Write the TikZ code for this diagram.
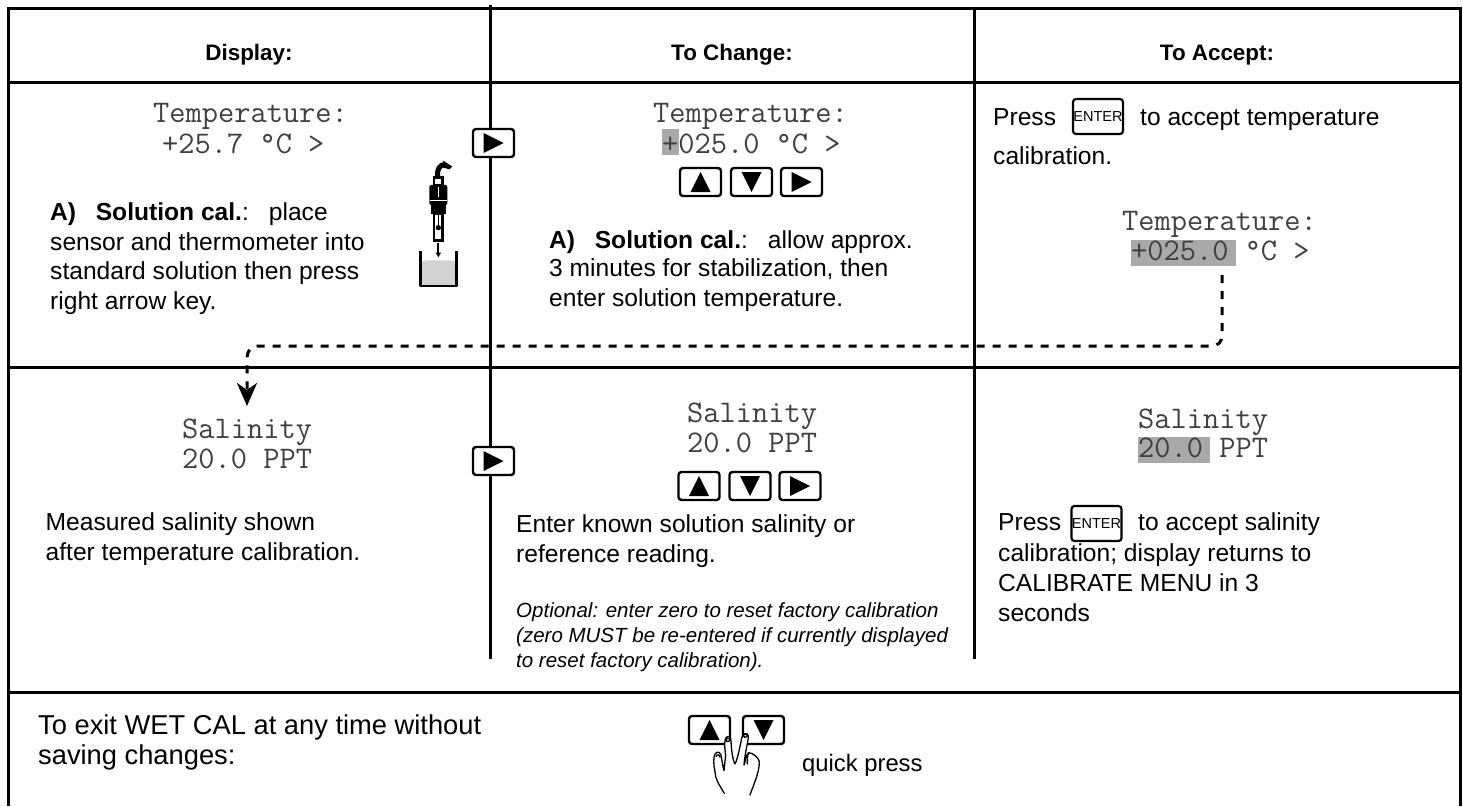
\documentclass[tikz,border=0pt]{standalone}
\usepackage{fontspec}
\setmainfont{Liberation Sans}
\setmonofont{Latin Modern Mono}
\usetikzlibrary{arrows.meta}
\definecolor{hl}{HTML}{A9A9A9}
\definecolor{monoc}{HTML}{404040}
\definecolor{liq}{HTML}{D2D2D2}
\tikzset{
  rule/.style={line width=3pt,black},
  body/.style={anchor=base west,inner sep=0pt,font=\fontsize{24.6}{24.6}\selectfont},
  small/.style={anchor=base west,inner sep=0pt,font=\fontsize{20.5}{20.5}\selectfont\itshape},
  head/.style={anchor=base,inner sep=0pt,font=\fontsize{22.4}{22.4}\selectfont\bfseries},
  big/.style={anchor=base west,inner sep=0pt,font=\fontsize{27.3}{27.3}\selectfont},
  mono/.style={anchor=base west,inner sep=0pt,text=monoc,font=\fontsize{31.5}{31.5}\ttfamily},
  keybox/.style={draw,fill=white,line width=2.4pt,rounded corners=3pt,minimum width=41pt,minimum height=28pt,inner sep=0pt},
  enterkey/.style={draw,fill=white,line width=2.2pt,rounded corners=3pt,minimum width=50pt,minimum height=35pt,inner sep=0pt,font=\fontsize{14.5}{14.5}\selectfont},
  flow/.style={line width=3pt,dash pattern=on 8pt off 8pt},
  hand/.style={line width=1.3pt,line cap=round,line join=round}
}
\newcommand{\trU}{(-10,10)--(0,-10)--(10,10)--cycle}
\newcommand{\trD}{(-10,-10)--(0,10)--(10,-10)--cycle}
\newcommand{\trR}{(-10,-10)--(10,0)--(-10,10)--cycle}
\newcommand{\keybtn}[4]{\node[keybox] (#1) at (#2,#3) {};\fill[shift={(#1.center)}] #4;}
\begin{document}
\begin{tikzpicture}[x=1pt,y=-1pt]
\useasboundingbox (0,0) rectangle (1463,806);
% highlights
\fill[hl] (662,129) rectangle (679,155);
\fill[hl] (1131,240) rectangle (1236,266);
\fill[hl] (1138,437) rectangle (1210,463);
% rules
\draw[rule] (8,806) -- (8,8) -- (1460,8) -- (1460,806);
\draw[rule] (8,82) -- (1460,82);
\draw[rule] (8,367) -- (1460,367);
\draw[rule] (8,692) -- (1460,692);
\draw[rule] (490,5) -- (490,659);
\draw[rule] (974,8) -- (974,659);
% headers
\node[head] (h1) at (249,60) {Display:};
\node[head] (h2) at (732,60) {To Change:};
\node[head] (h3) at (1217,60) {To Accept:};
% column 1 row 1
\node[mono] (t1a) at (153,122) {Temperature:};
\node[mono] (t1b) at (162,153) {+25.7 °C >};
\node[body] (b1a) at (50,220) {\textbf{A)\hspace{0.8em}Solution cal.}:\hspace{20pt}place};
\node[body] (b1b) at (50,250) {sensor and thermometer into};
\node[body] (b1c) at (50,279) {standard solution then press};
\node[body] (b1d) at (50,309) {right arrow key.};
% probe
\begin{scope}[shift={(400,80)},x=0.3333pt,y=-0.3333pt]
  \fill[liq] (65,545) -- (80,541) -- (150,541) -- (167,545) -- (167,615) -- (65,615) -- cycle;
  \draw[line width=2.6pt,line join=round] (62,512) -- (62,618) -- (170,618) -- (170,512);
  \draw[line width=1.8pt,-{Latex[length=5pt,width=6pt]}] (115,490) -- (115,533);
  \draw[line width=2.4pt,fill=white] (102,400) rectangle (128,482);
  \fill (115,443) circle (8);
  \draw[line width=1pt] (115,400) -- (115,435);
  \fill[rounded corners=2pt] (88,315) rectangle (142,375);
  \fill (92,375) rectangle (138,403);
  \draw[line width=2.4pt,fill=white] (102,292) rectangle (127,316);
  \draw[white,line width=0.7pt] (115,322) -- (115,350) (90,362) -- (140,362);
  \draw[line width=5pt] (113,292) .. controls (110,265) and (120,255) .. (135,253);
  \fill (130,242) -- (157,260) -- (148,268) -- (128,262) -- cycle;
\end{scope}
% right keys between columns
\keybtn{kr1}{493.5}{143}{\trR}
\keybtn{kr2}{493.5}{461}{\trR}
% column 2 row 1
\node[mono] (t2a) at (653,122) {Temperature:};
\node[mono] (t2b) at (662,153) {+025.0 °C >};
\keybtn{k1u}{700.5}{182}{\trU}
\keybtn{k1d}{751.5}{182}{\trD}
\keybtn{k1r}{801.5}{182}{\trR}
\node[body] (b2a) at (549,248) {\textbf{A)\hspace{0.8em}Solution cal.}:\hspace{20pt}allow approx.};
\node[body] (b2b) at (549,276) {3 minutes for stabilization, then};
\node[body] (b2c) at (549,306) {enter solution temperature.};
% column 3 row 1
\node[body] (b3a) at (993,125) {Press};
\node[enterkey] (e1) at (1098,116.5) {ENTER};
\node[body] (b3b) at (1140,125) {to accept temperature};
\node[body] (b3c) at (993,164) {calibration.};
\node[mono] (t3a) at (1122,230) {Temperature:};
\node[mono] (t3b) at (1131,260) {+025.0 °C >};
% row 2
\node[mono] (s1a) at (182,438) {Salinity};
\node[mono] (s1b) at (182,468) {20.0 PPT};
\node[body] (m1a) at (45.5,530) {Measured salinity shown};
\node[body] (m1b) at (45.5,560) {after temperature calibration.};
\node[mono] (s2a) at (687,422) {Salinity};
\node[mono] (s2b) at (687,452) {20.0 PPT};
\keybtn{k2u}{699}{486}{\trU}
\keybtn{k2d}{750}{486}{\trD}
\keybtn{k2r}{800}{486}{\trR}
\node[body] (m2a) at (516,532) {Enter known solution salinity or};
\node[body] (m2b) at (516,562) {reference reading.};
\node[small] (o1) at (516,617) {Optional: enter zero to reset factory calibration};
\node[small] (o2) at (516,642) {(zero MUST be re-entered if currently displayed};
\node[small] (o3) at (516,667) {to reset factory calibration).};
\node[mono] (s3a) at (1138,428) {Salinity};
\node[mono] (s3b) at (1138,457) {20.0 PPT};
\node[body] (c3a) at (998,530) {Press};
\node[enterkey] (e2) at (1096.5,523.5) {ENTER};
\node[body] (c3b) at (1138,530) {to accept salinity};
\node[body] (c3c) at (998,561) {calibration; display returns to};
\node[body] (c3d) at (998,591) {CALIBRATE MENU in 3};
\node[body] (c3e) at (998,621) {seconds};
% bottom row
\node[big] (x1) at (38,734) {To exit WET CAL at any time without};
\node[big] (x2) at (38,764) {saving changes:};
\keybtn{bu}{709.5}{730}{\trU}
\keybtn{bd}{763.5}{730}{\trD}
\begin{scope}[shift={(660,640)},x=0.3333pt,y=-0.3333pt]
  \draw[hand,fill=white] (193,460) .. controls (175,430) and (165,415) .. (165,395)
     .. controls (160,375) and (160,350) .. (165,342) .. controls (172,332) and (182,336) .. (184,350)
     .. controls (186,365) and (190,385) .. (192,392) -- (197,345)
     .. controls (193,320) and (193,300) .. (198,293) .. controls (205,285) and (213,290) .. (213,302)
     .. controls (214,330) and (218,360) .. (225,372) .. controls (232,360) and (240,320) .. (245,295)
     .. controls (247,280) and (262,275) .. (265,288) .. controls (265,305) and (255,335) .. (252,375)
     .. controls (258,360) and (258,345) .. (266,338) .. controls (280,340) and (295,352) .. (298,365)
     .. controls (298,400) and (280,435) .. (270,465);
  \draw[hand] (168,350) .. controls (172,342) and (178,342) .. (180,352);
  \draw[hand] (198,302) .. controls (200,292) and (210,292) .. (209,302) .. controls (205,306) and (200,306) .. (198,302);
  \draw[hand] (250,288) .. controls (252,280) and (262,280) .. (262,288) .. controls (258,294) and (252,294) .. (250,288);
  \draw[hand] (266,338) .. controls (262,345) and (262,360) .. (262,372);
\end{scope}
\node[body,font=\fontsize{23.8}{23.8}\selectfont] (q) at (802,771) {quick press};
% connector
\coordinate (fs) at (1222,275);
\coordinate (ft) at (247,406);
\draw[flow,-{Stealth[length=23pt,width=20pt,inset=7pt]}] (fs) -- (1222,334) .. controls (1222,342) and (1219,346) .. (1210,346) -- (260,346) .. controls (251,346) and (247,350) .. (247,360) -- (ft);
\end{tikzpicture}
\end{document}
